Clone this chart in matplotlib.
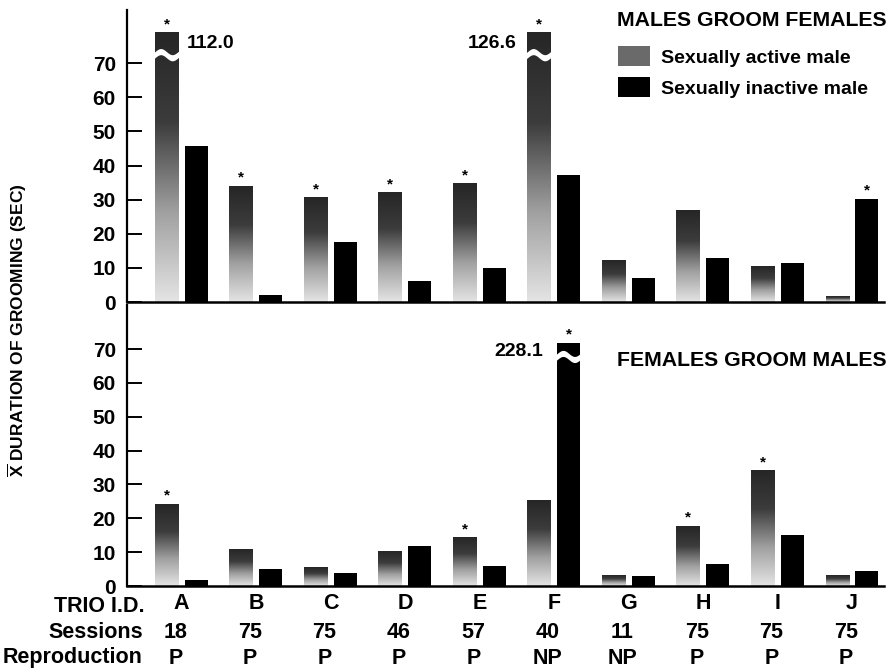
import numpy as np
import matplotlib
matplotlib.use("Agg")
import matplotlib.pyplot as plt
from matplotlib.colors import LinearSegmentedColormap
from matplotlib.patches import Patch
from matplotlib.transforms import blended_transform_factory

plt.rcParams['font.family'] = ['Liberation Sans', 'DejaVu Sans']
plt.rcParams['font.weight'] = 'bold'
plt.rcParams['mathtext.fontset'] = 'custom'
plt.rcParams['mathtext.rm'] = 'Liberation Sans:bold'
plt.rcParams['mathtext.bf'] = 'Liberation Sans:bold'

# ---- data ----
trios = ["A", "B", "C", "D", "E", "F", "G", "H", "I", "J"]
sessions = ["18", "75", "75", "46", "57", "40", "11", "75", "75", "75"]
reproduction = ["P", "P", "P", "P", "P", "NP", "NP", "P", "P", "P"]

# males groom females (mean sec)
mgf_active = [112.0, 34.0, 30.5, 32.0, 34.6, 126.6, 12.3, 26.7, 10.5, 1.5]
mgf_inactive = [45.7, 2.0, 17.6, 6.2, 10.0, 37.2, 7.0, 12.9, 11.4, 30.2]
mgf_active_sig = [1, 1, 1, 1, 1, 1, 0, 0, 0, 0]
mgf_inactive_sig = [0, 0, 0, 0, 0, 0, 0, 0, 0, 1]

# females groom males (mean sec)
fgm_active = [24.2, 10.9, 5.6, 10.3, 14.2, 25.4, 3.2, 17.7, 34.0, 3.2]
fgm_inactive = [1.8, 5.0, 3.8, 11.8, 5.9, 228.1, 2.9, 6.5, 15.0, 4.4]
fgm_active_sig = [1, 0, 0, 0, 1, 0, 0, 1, 1, 0]
fgm_inactive_sig = [0, 0, 0, 0, 0, 1, 0, 0, 0, 0]

stipple = LinearSegmentedColormap.from_list("stip", ["#e4e4e4", "#a0a0a0", "#3c3c3c", "#262626"])
grad = np.linspace(0, 1, 200).reshape(-1, 1)

W, H = 889, 671
fig = plt.figure(figsize=(W / 100, H / 100), dpi=100)


def fx(px):
    return px / W


def fy(py):
    return 1 - py / H


ax_top = fig.add_axes([fx(127), fy(302), fx(884 - 127), (302 - 10) / H])
ax_bot = fig.add_axes([fx(127), fy(586), fx(884 - 127), (586 - 305) / H])


def draw_panel(ax, active, inactive, sig_a, sig_i, cap, brk, ytop):
    x = np.arange(len(trios))
    shown_a = np.minimum(active, cap)
    shown_i = np.minimum(inactive, cap)
    bars_a = ax.bar(x - 0.2, shown_a, 0.31, facecolor='none', linewidth=0, zorder=2)
    bars_i = ax.bar(x + 0.2, shown_i, 0.31, color='black', linewidth=0, zorder=2)
    for b in bars_a:
        x0, w, h = b.get_x(), b.get_width(), b.get_height()
        ax.imshow(grad, cmap=stipple, extent=(x0, x0 + w, 0, h), aspect='auto',
                  origin='lower', vmin=0, vmax=1, zorder=2, interpolation='bilinear')
    # broken bars
    for bars, vals in ((bars_a, active), (bars_i, inactive)):
        for b, v in zip(bars, vals):
            if v > cap:
                x0, w = b.get_x(), b.get_width()
                xs = np.linspace(x0 - 0.03, x0 + w + 0.03, 40)
                wave = 0.9 * np.sin((xs - x0) / w * 2 * np.pi)
                ax.fill_between(xs, brk - 0.9 + wave, brk + 0.9 + wave, color='white', zorder=3, linewidth=0)
    # significance marks
    for bars, sig in ((bars_a, sig_a), (bars_i, sig_i)):
        for b, s in zip(bars, sig):
            if s:
                ax.annotate('*', (b.get_x() + b.get_width() / 2, b.get_height()), xytext=(0, 1),
                            textcoords='offset points', ha='center', va='bottom', fontsize=11)
    ax.set_xlim(-0.73, 9.43)
    ax.set_ylim(0, ytop)
    ax.set_yticks(range(0, 80, 10))
    ax.set_xticks(x)
    ax.set_xticklabels(trios)
    ax.tick_params(axis='y', direction='in', length=11, width=1.4, labelsize=15, pad=8)
    ax.tick_params(axis='x', length=0, labelsize=15)
    for s in ('top', 'right'):
        ax.spines[s].set_visible(False)
    ax.spines['left'].set_linewidth(1.6)
    ax.spines['bottom'].set_linewidth(1.8)
    return bars_a, bars_i


ta, ti = draw_panel(ax_top, mgf_active, mgf_inactive, mgf_active_sig, mgf_inactive_sig, 78.9, 72.5, 85.6)
ba, bi = draw_panel(ax_bot, fgm_active, fgm_inactive, fgm_active_sig, fgm_inactive_sig, 71.8, 67.8, 83.0)
ax_top.tick_params(axis='x', pad=4)
ax_bot.tick_params(axis='x', pad=5)
for lab in ax_bot.get_xticklabels():
    lab.set_fontsize(15.5)

# value labels on broken bars
b = ta[0]
ax_top.annotate(f"{mgf_active[0]:.1f}", (b.get_x() + b.get_width(), b.get_height() - 3), xytext=(6, 0),
                textcoords='offset points', ha='left', va='center', fontsize=14)
b = ta[5]
ax_top.annotate(f"{mgf_active[5]:.1f}", (b.get_x(), b.get_height() - 3), xytext=(-8, 0),
                textcoords='offset points', ha='right', va='center', fontsize=14)
b = bi[5]
ax_bot.annotate(f"{fgm_inactive[5]:.1f}", (b.get_x(), b.get_height() - 2.4), xytext=(-10, 0),
                textcoords='offset points', ha='right', va='center', fontsize=14)

# titles
fig.text(fx(887), fy(21), "MALES GROOM FEMALES", ha='right', va='center', fontsize=15.3)
fig.text(fx(887), fy(360), "FEMALES GROOM MALES", ha='right', va='center', fontsize=15.3)

# legend
handles = [Patch(facecolor='#6a6a6a', linewidth=0), Patch(facecolor='black', linewidth=0)]
fig.legend(handles, ["Sexually active male", "Sexually inactive male"], loc='upper left',
           bbox_to_anchor=(fx(618), fy(46)), frameon=False, fontsize=14, borderpad=0,
           borderaxespad=0, handlelength=1.65, handleheight=1.2, handletextpad=0.55, labelspacing=0.55)

# y label
fig.text(fx(17), fy(330), r"$\overline{\mathrm{X}}$ DURATION OF GROOMING (SEC)", rotation=90,
         ha='center', va='center', fontsize=12.5)

# table below
tr = blended_transform_factory(ax_bot.transData, fig.transFigure)
fig.text(fx(145), fy(607), "TRIO I.D.", ha='right', va='center', fontsize=15.5)
fig.text(fx(143), fy(633), "Sessions", ha='right', va='center', fontsize=15.5)
fig.text(fx(142), fy(658), "Reproduction", ha='right', va='center', fontsize=15.5)
for i in range(len(trios)):
    ax_bot.text(i - 0.08, fy(633), sessions[i], transform=tr, ha='center', va='center', fontsize=15.5)
    ax_bot.text(i - 0.08, fy(658), reproduction[i], transform=tr, ha='center', va='center', fontsize=15.5)

fig.savefig("out.png", dpi=100)
